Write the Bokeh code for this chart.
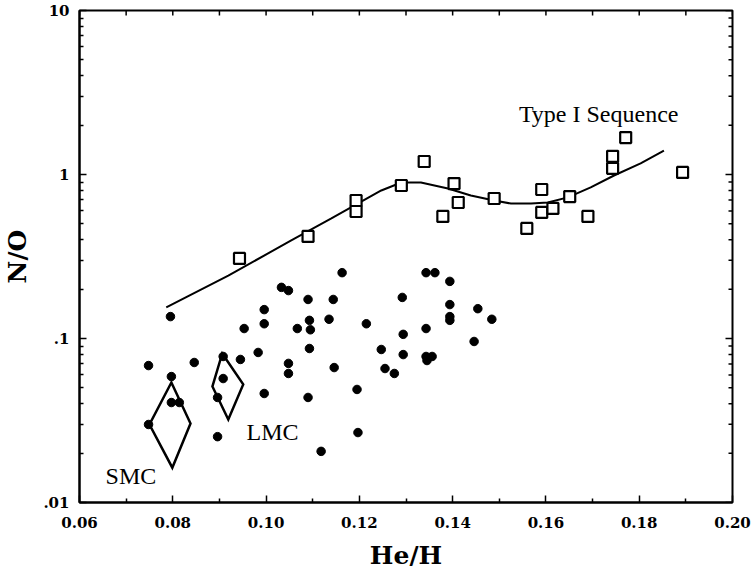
import math
from bokeh.plotting import figure
from bokeh.models import FixedTicker, Label, CustomJSTickFormatter, PrintfTickFormatter
from bokeh.embed import file_html
from bokeh.resources import INLINE

# ---- data ----
# Type I planetary nebulae (open squares)
type1_he = [0.0943, 0.1090, 0.1193, 0.1193, 0.1290, 0.1339, 0.1379, 0.1403, 0.1412, 0.1489,
            0.1559, 0.1591, 0.1591, 0.1615, 0.1651, 0.1690, 0.1743, 0.1743, 0.1771, 0.1893]
type1_no = [0.308, 0.419, 0.694, 0.595, 0.857, 1.20, 0.555, 0.880, 0.675, 0.714,
            0.469, 0.810, 0.587, 0.621, 0.734, 0.555, 1.29, 1.09, 1.68, 1.03]

# other nebulae (filled dots)
dots_he = [0.0795, 0.0748, 0.0846, 0.0908, 0.0945, 0.0797, 0.0908, 0.0797, 0.0814, 0.0748,
           0.0896, 0.0896, 0.0953, 0.0983, 0.0996, 0.0996, 0.0996, 0.1033, 0.1048, 0.1067,
           0.1090, 0.1093, 0.1095, 0.1093, 0.1048, 0.1048, 0.1090, 0.1118, 0.1135, 0.1144,
           0.1146, 0.1163, 0.1195, 0.1197, 0.1215, 0.1247, 0.1255, 0.1275, 0.1292, 0.1294,
           0.1294, 0.1343, 0.1362, 0.1343, 0.1343, 0.1356, 0.1345, 0.1394, 0.1394, 0.1394,
           0.1394, 0.1446, 0.1454, 0.1484]
dots_no = [0.136, 0.0684, 0.0714, 0.0777, 0.0745, 0.0586, 0.0570, 0.0407, 0.0407, 0.0299,
           0.0437, 0.0252, 0.115, 0.0822, 0.150, 0.123, 0.0462, 0.205, 0.196, 0.115,
           0.173, 0.129, 0.113, 0.0869, 0.0705, 0.0612, 0.0437, 0.0205, 0.131, 0.173,
           0.0665, 0.252, 0.0489, 0.0267, 0.123, 0.0857, 0.0656, 0.0612, 0.178, 0.106,
           0.0798, 0.252, 0.252, 0.115, 0.0777, 0.0777, 0.0734, 0.223, 0.161, 0.136,
           0.129, 0.0959, 0.152, 0.131]

# Type I sequence curve
seq_he = [0.0786, 0.0919, 0.1054, 0.1140, 0.1247, 0.1290, 0.1332, 0.1390, 0.1439, 0.1489,
          0.1525, 0.1568, 0.1604, 0.1647, 0.1696, 0.1746, 0.1803, 0.1853]
seq_no = [0.155, 0.242, 0.396, 0.540, 0.799, 0.894, 0.894, 0.822, 0.745, 0.694,
          0.665, 0.665, 0.675, 0.725, 0.834, 0.986, 1.17, 1.40]

# Magellanic Cloud diamonds (top, right, bottom, left)
smc_he = [0.0797, 0.0838, 0.0799, 0.0750]
smc_no = [0.0539, 0.0303, 0.0163, 0.0299]
lmc_he = [0.0906, 0.0951, 0.0919, 0.0885]
lmc_no = [0.0810, 0.0525, 0.0321, 0.0510]

x_ticks = [0.06, 0.08, 0.10, 0.12, 0.14, 0.16, 0.18, 0.20]
x_minor = [0.07, 0.09, 0.11, 0.13, 0.15, 0.17, 0.19]
y_ticks = [0.01, 0.1, 1, 10]
y_minor = [k * d for d in (0.01, 0.1, 1) for k in range(2, 10)]

labels = [("Type I Sequence", 0.1542, 2.35), ("SMC", 0.0656, 0.0145), ("LMC", 0.0958, 0.0270)]

X0, X1 = 0.06, 0.20
Y0, Y1 = 0.01, 10

# ---- figure ----
p = figure(width=753, height=572, x_range=(X0, X1), y_range=(Y0, Y1),
           y_axis_type="log", output_backend="svg", toolbar_location=None,
           min_border_left=78, min_border_right=21, min_border_top=10, min_border_bottom=70)
p.xgrid.visible = False
p.ygrid.visible = False
p.outline_line_color = "black"
p.outline_line_width = 2
p.background_fill_color = "white"
p.border_fill_color = "white"

SERIF = "DejaVu Serif"

def style(ax):
    ax.axis_line_color = "black"
    ax.axis_line_width = 2
    ax.major_tick_in = 7
    ax.major_tick_out = 0
    ax.minor_tick_in = 4
    ax.minor_tick_out = 0
    ax.major_tick_line_width = 1.5
    ax.minor_tick_line_width = 1.5
    ax.major_tick_line_color = "black"
    ax.minor_tick_line_color = "black"
    ax.major_label_text_font = SERIF
    ax.major_label_text_font_style = "bold"
    ax.major_label_text_color = "black"
    ax.major_label_text_font_size = "15px"

xa = p.below[0]
xa.ticker = FixedTicker(ticks=x_ticks, minor_ticks=x_minor)
xa.formatter = PrintfTickFormatter(format="%.2f")
style(xa)
xa.major_label_standoff = 14
xa.axis_label = "He/H"
xa.axis_label_text_font = SERIF
xa.axis_label_text_font_style = "bold"
xa.axis_label_text_font_size = "25px"
xa.axis_label_text_color = "black"
xa.axis_label_standoff = 10

ya = p.left[0]
ya.ticker = FixedTicker(ticks=y_ticks, minor_ticks=y_minor)
ya.formatter = CustomJSTickFormatter(code="var s = String(tick); return tick < 1 ? s.replace(/^0/, '') : s;")
style(ya)
ya.major_label_standoff = 10
ya.axis_label = "N/O"
ya.axis_label_text_font = SERIF
ya.axis_label_text_font_style = "bold"
ya.axis_label_text_font_size = "25px"
ya.axis_label_text_color = "black"
ya.axis_label_standoff = 8

# inward ticks on the top and right frame edges (screen-length rays from tick positions)
top_x = x_ticks + x_minor
p.ray(x=top_x, y=[Y1] * len(top_x), length=5, angle=-math.pi / 2,
      length_units="screen", line_color="black", line_width=1.5)
p.ray(x=[X1] * len(y_ticks), y=y_ticks, length=7, angle=math.pi,
      length_units="screen", line_color="black", line_width=1.5)
p.ray(x=[X1] * len(y_minor), y=y_minor, length=4, angle=math.pi,
      length_units="screen", line_color="black", line_width=1.5)

# ---- marks ----
p.patches(xs=[smc_he, lmc_he], ys=[smc_no, lmc_no], fill_alpha=0,
          line_color="black", line_width=2.5, line_join="miter")
p.line(seq_he, seq_no, line_color="black", line_width=2)
p.scatter(dots_he, dots_no, marker="circle", size=8.5, fill_color="black", line_color="black")
p.scatter(type1_he, type1_no, marker="square", size=11, fill_color="white",
          line_color="black", line_width=2.2)

for txt, lx, ly in labels:
    p.add_layout(Label(x=lx, y=ly, text=txt, text_font="Liberation Serif",
                       text_font_size="24px", text_color="black", text_baseline="alphabetic"))

open("out.html", "w").write(file_html(p, INLINE))
